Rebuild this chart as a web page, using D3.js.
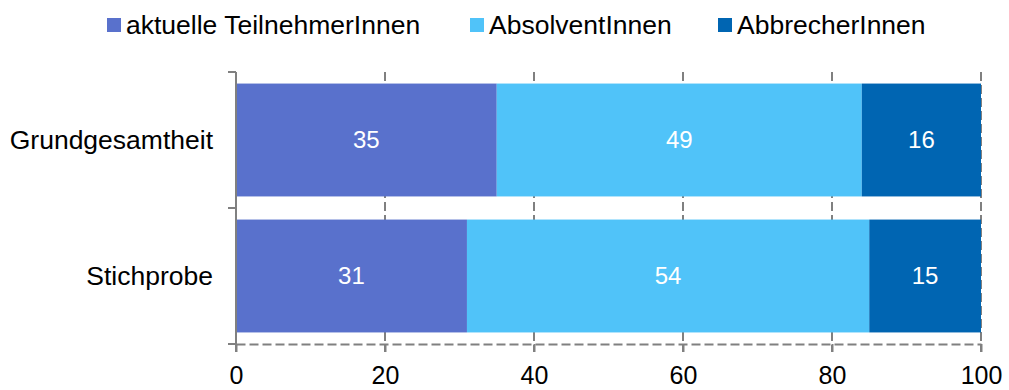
<!DOCTYPE html>
<html>
<head>
<meta charset="utf-8">
<script src="https://cdn.jsdelivr.net/npm/d3@7"></script>
<style>
  html, body { margin: 0; padding: 0; background: #fff; }
  svg { display: block; font-family: "Liberation Sans", Arial, sans-serif; }
</style>
</head>
<body>
<svg id="chart" width="1009" height="390"></svg>
<script>
// Anteile (%) je Gruppe
const categories = ["Grundgesamtheit", "Stichprobe"];
const seriesNames = ["aktuelle TeilnehmerInnen", "AbsolventInnen", "AbbrecherInnen"];
const aktuelle = [35, 31];
const absolventen = [49, 54];
const abbrecher = [16, 15];
const xTicks = [0, 20, 40, 60, 80, 100];

const colors = ["#5971cc", "#50c3f9", "#0065b2"];
const gridColor = "#808080";
const dash = "9,4";

const svg = d3.select("#chart");
const margin = { top: 72, right: 28, bottom: 46, left: 236 };
const W = 1009, H = 390;

const x = d3.scaleLinear().domain([0, 100]).range([margin.left, W - margin.right]);
const y = d3.scaleBand().domain(categories)
  .range([margin.top, H - margin.bottom])
  .paddingInner(0.17).paddingOuter(0.085);

// Tabelle für d3.stack
const table = categories.map((c, i) => ({
  cat: c,
  [seriesNames[0]]: aktuelle[i],
  [seriesNames[1]]: absolventen[i],
  [seriesNames[2]]: abbrecher[i]
}));
const stacked = d3.stack().keys(seriesNames)(table);

// vertikale Gitterlinien (gestrichelt)
svg.append("g")
  .selectAll("line")
  .data(xTicks.slice(1))
  .join("line")
  .attr("x1", d => x(d)).attr("x2", d => x(d))
  .attr("y1", margin.top).attr("y2", H - margin.bottom + 8)
  .attr("stroke", gridColor)
  .attr("stroke-width", 2)
  .attr("stroke-dasharray", dash);

// Balken
const layer = svg.append("g")
  .selectAll("g")
  .data(stacked)
  .join("g")
  .attr("fill", (d, i) => colors[i]);

layer.selectAll("rect")
  .data(d => d)
  .join("rect")
  .attr("x", d => x(d[0]))
  .attr("width", d => x(d[1]) - x(d[0]))
  .attr("y", d => y(d.data.cat))
  .attr("height", y.bandwidth());

// Wertbeschriftungen
layer.selectAll("text")
  .data(d => d.map(v => ({ v, key: d.key })))
  .join("text")
  .attr("x", d => (x(d.v[0]) + x(d.v[1])) / 2)
  .attr("y", d => y(d.v.data.cat) + y.bandwidth() / 2)
  .attr("dy", "0.35em")
  .attr("text-anchor", "middle")
  .attr("fill", "#fff")
  .attr("font-size", 24)
  .text(d => d.v.data[d.key]);

// x-Achse (gestrichelt) mit Teilstrichen
const xAxis = svg.append("g")
  .attr("transform", `translate(0,${H - margin.bottom})`)
  .call(d3.axisBottom(x).tickValues(xTicks).tickSize(8).tickPadding(14).tickSizeOuter(0));
xAxis.select(".domain")
  .attr("stroke", gridColor).attr("stroke-width", 2).attr("stroke-dasharray", dash);
xAxis.selectAll(".tick line").attr("stroke", gridColor).attr("stroke-width", 2);
xAxis.selectAll(".tick text")
  .attr("font-size", 25).attr("fill", "#000")
  .attr("font-family", "Liberation Sans, Arial, sans-serif");

// y-Achse: durchgezogene Linie, Teilstriche an den Kategoriegrenzen
const [y0, y1] = y.range();
const yBounds = d3.range(categories.length + 1).map(i => y0 + i * (y1 - y0) / categories.length);
const yAxis = svg.append("g");
yAxis.append("line")
  .attr("x1", x(0)).attr("x2", x(0))
  .attr("y1", y0).attr("y2", y1 + 8)
  .attr("stroke", gridColor).attr("stroke-width", 2);
yAxis.selectAll("line.tk")
  .data(yBounds)
  .join("line")
  .attr("class", "tk")
  .attr("x1", x(0) - 8).attr("x2", x(0))
  .attr("y1", d => d).attr("y2", d => d)
  .attr("stroke", gridColor).attr("stroke-width", 2);
yAxis.selectAll("text")
  .data(categories)
  .join("text")
  .attr("x", x(0) - 23)
  .attr("y", d => y(d) + y.bandwidth() / 2)
  .attr("dy", "0.35em")
  .attr("text-anchor", "end")
  .attr("font-size", 26.5)
  .attr("fill", "#000")
  .text(d => d);

// Legende
const legendX = [107, 470, 718];
const legend = svg.append("g")
  .selectAll("g")
  .data(seriesNames)
  .join("g")
  .attr("transform", (d, i) => `translate(${legendX[i]},0)`);
legend.append("rect")
  .attr("x", 0).attr("y", 18).attr("width", 14).attr("height", 14)
  .attr("fill", (d, i) => colors[i]);
legend.append("text")
  .attr("x", 19).attr("y", 34)
  .attr("font-size", 26.5)
  .attr("fill", "#000")
  .text(d => d);
</script>
</body>
</html>
